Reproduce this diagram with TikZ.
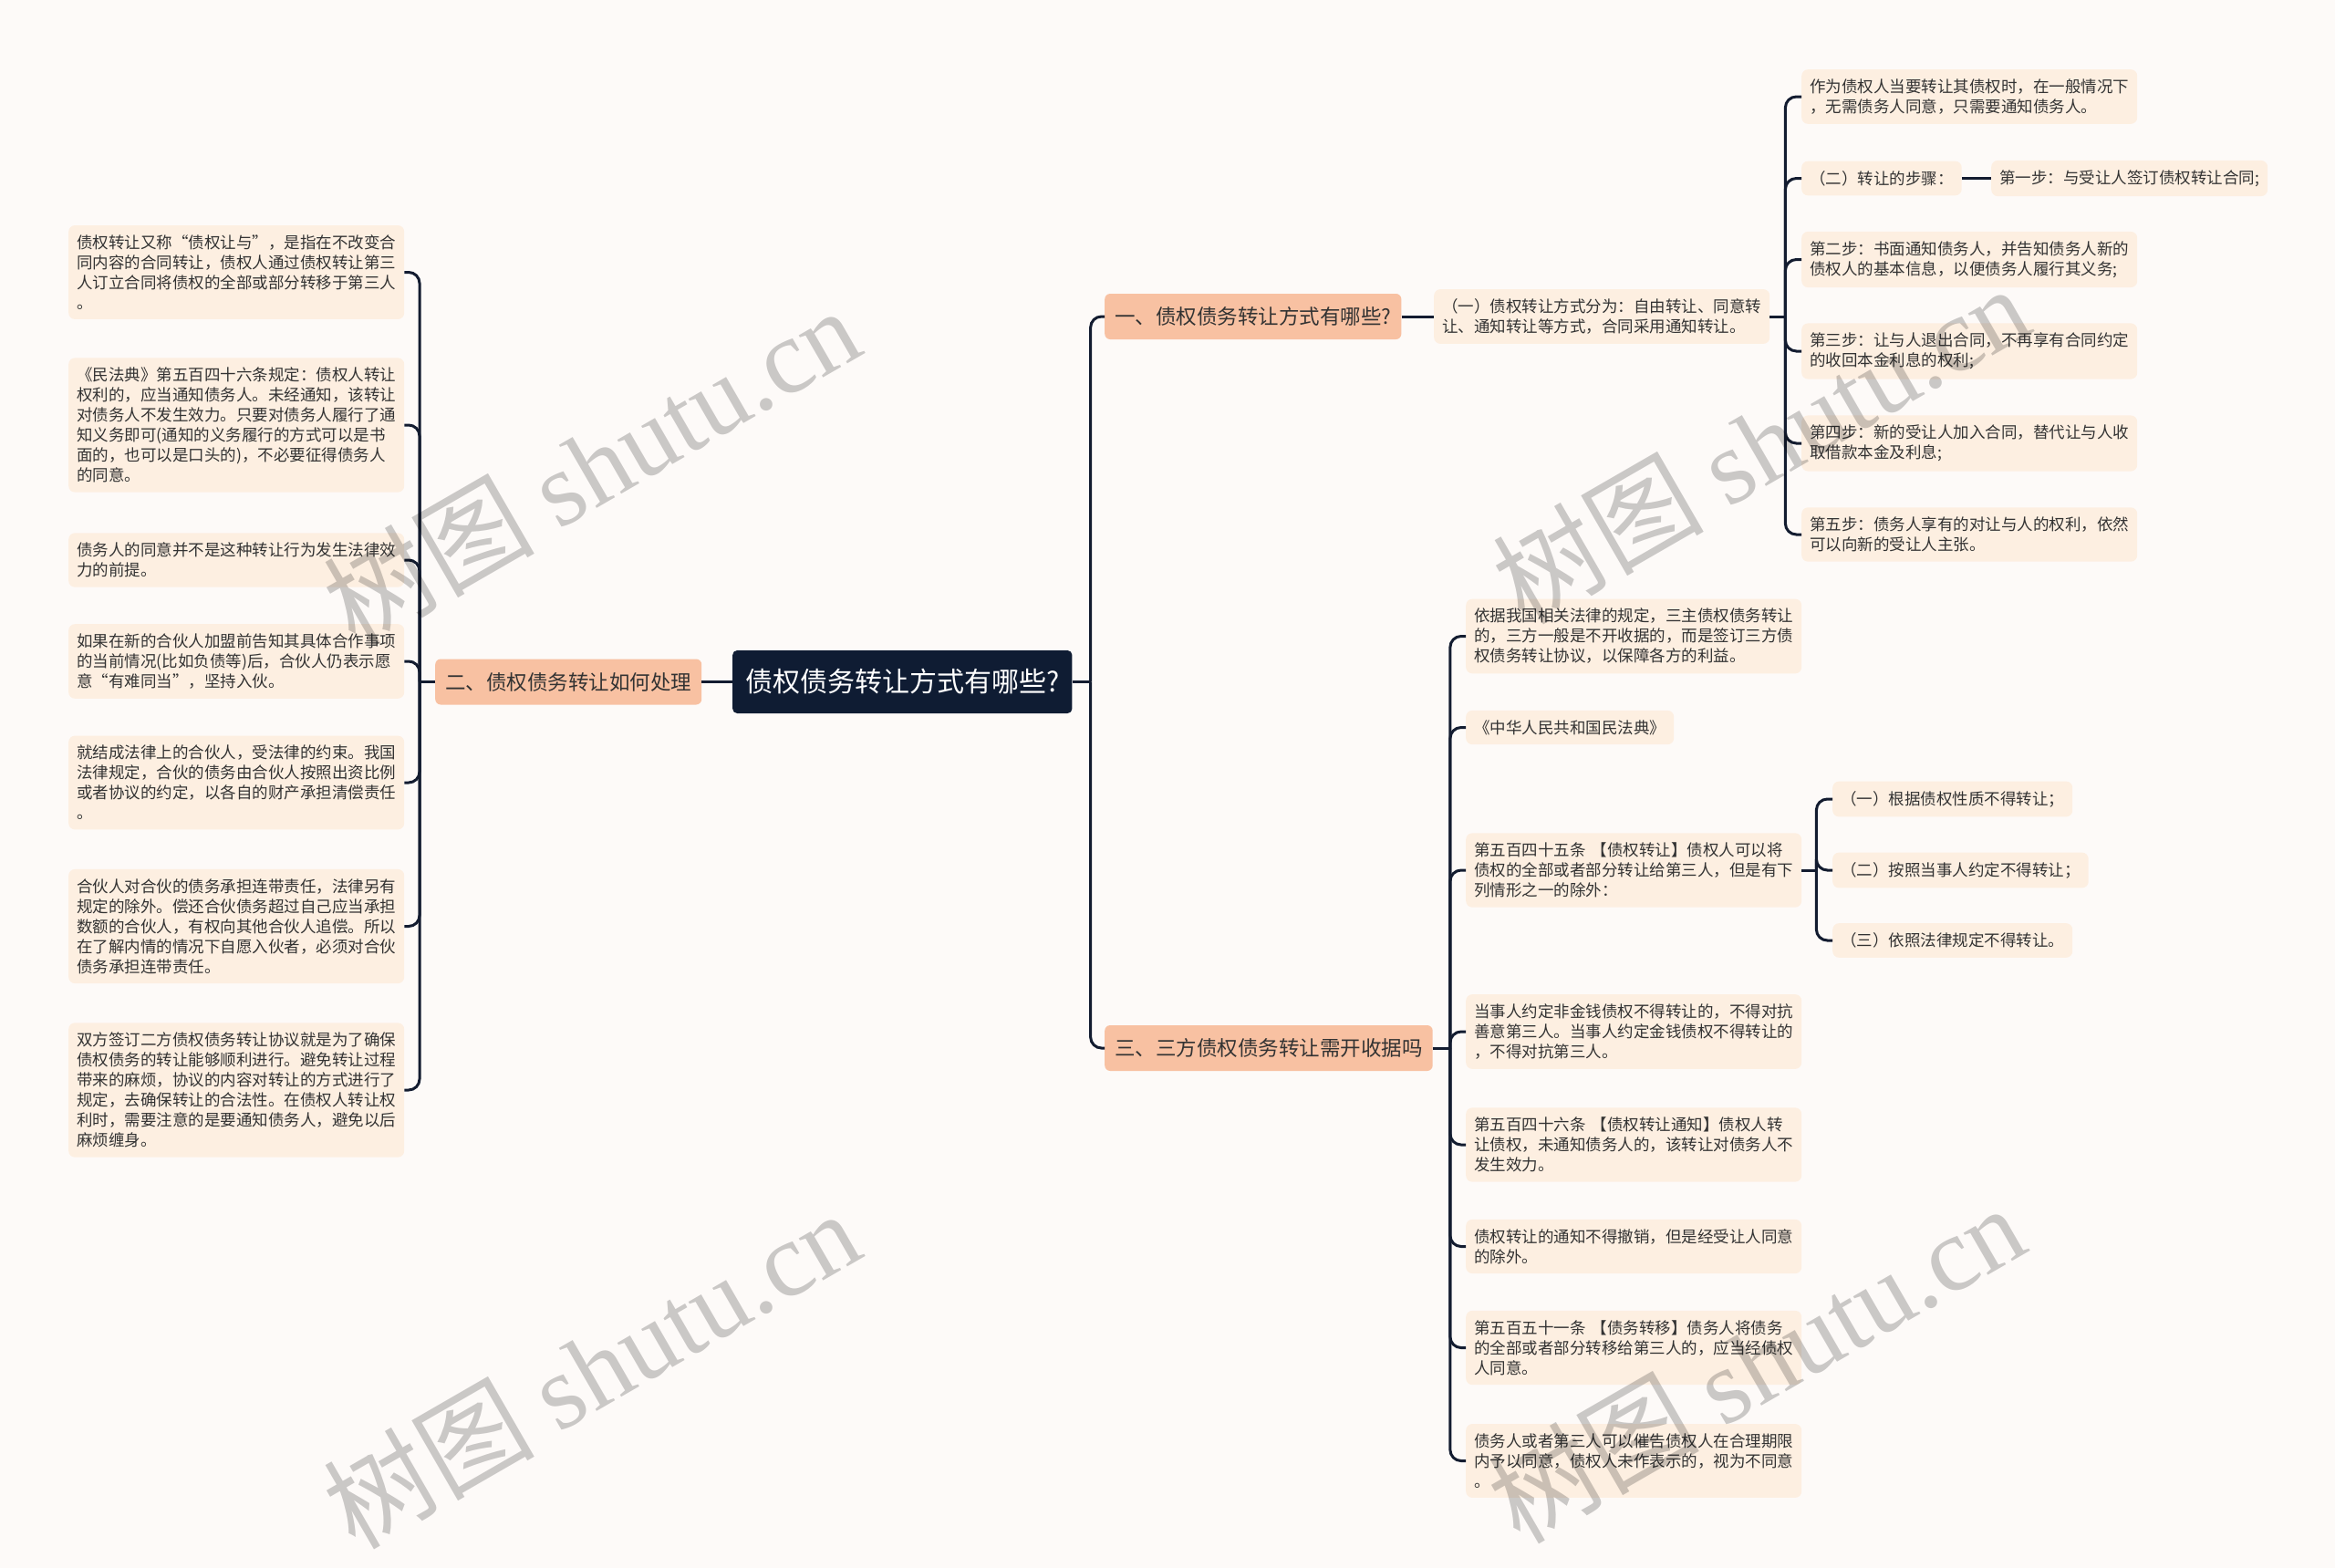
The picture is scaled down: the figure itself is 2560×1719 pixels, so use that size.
\documentclass[tikz,border=0pt]{standalone}
\usepackage{fontspec}
\setmainfont{Noto Sans CJK SC}
\newfontfamily\wmfont{Liberation Serif}
\definecolor{bgcol}{HTML}{FDFAF8}
\definecolor{rootcol}{HTML}{0F1C33}
\definecolor{branchcol}{HTML}{F8C1A2}
\definecolor{leafcol}{HTML}{FDEFE1}
\definecolor{linecol}{HTML}{131C30}
\definecolor{txtcol}{HTML}{333333}

\begin{document}
\begin{tikzpicture}[x=1pt,y=-1pt,
    rootnode/.style={fill=rootcol, text=white, rounded corners=5pt, anchor=west,
      inner xsep=14pt, minimum height=69pt, font=\fontsize{30}{35}\selectfont},
    branchnode/.style={fill=branchcol, text=txtcol, rounded corners=6pt, anchor=west,
      inner xsep=11pt, minimum height=50pt, font=\fontsize{22.5}{27}\selectfont},
    leafnode/.style={fill=leafcol, text=txtcol, rounded corners=7pt, anchor=west,
      inner xsep=9pt, inner ysep=10.5pt, align=left, font=\fontsize{17.5}{22}\selectfont},
    widenode/.style={leafnode, text width=350pt},
    linkline/.style={draw=linecol, line width=3pt, rounded corners=12pt},
    wmtext/.style={text=black, opacity=0.2, rotate=30, font=\fontsize{116}{116}\selectfont}]
        % page
        \fill[bgcol] (0,0) rectangle (2560,1719);
        \useasboundingbox (0,0) rectangle (2560,1719);

        % centre and main branches
        \node[rootnode] (root) at (803,747.5) {债权债务转让方式有哪些?};
        \node[branchnode] (b1) at (1211,347) {一、债权债务转让方式有哪些?};
        \node[branchnode] (b2) at (477,747.5) {二、债权债务转让如何处理};
        \node[branchnode] (b3) at (1211,1149) {三、三方债权债务转让需开收据吗};

        % left side
        \node[widenode] (l1) at (75,298.5) {债权转让又称“债权让与”，是指在不改变合\\同内容的合同转让，债权人通过债权转让第三\\人订立合同将债权的全部或部分转移于第三人\\。};
        \node[widenode] (l2) at (75,466) {《民法典》第五百四十六条规定：债权人转让\\权利的，应当通知债务人。未经通知，该转让\\对债务人不发生效力。只要对债务人履行了通\\知义务即可(通知的义务履行的方式可以是书\\面的，也可以是口头的)，不必要征得债务人\\的同意。};
        \node[widenode] (l3) at (75,614) {债务人的同意并不是这种转让行为发生法律效\\力的前提。};
        \node[widenode] (l4) at (75,725) {如果在新的合伙人加盟前告知其具体合作事项\\的当前情况(比如负债等)后，合伙人仍表示愿\\意“有难同当”，坚持入伙。};
        \node[widenode] (l5) at (75,858) {就结成法律上的合伙人，受法律的约束。我国\\法律规定，合伙的债务由合伙人按照出资比例\\或者协议的约定，以各自的财产承担清偿责任\\。};
        \node[widenode] (l6) at (75,1015.5) {合伙人对合伙的债务承担连带责任，法律另有\\规定的除外。偿还合伙债务超过自己应当承担\\数额的合伙人，有权向其他合伙人追偿。所以\\在了解内情的情况下自愿入伙者，必须对合伙\\债务承担连带责任。};
        \node[widenode] (l7) at (75,1195) {双方签订二方债权债务转让协议就是为了确保\\债权债务的转让能够顺利进行。避免转让过程\\带来的麻烦，协议的内容对转让的方式进行了\\规定，去确保转让的合法性。在债权人转让权\\利时，需要注意的是要通知债务人，避免以后\\麻烦缠身。};

        % branch one
        \node[widenode] (c1) at (1572,347) {（一）债权转让方式分为：自由转让、同意转\\让、通知转让等方式，合同采用通知转让。};
        \node[widenode] (d1) at (1975,106) {作为债权人当要转让其债权时，在一般情况下\\，无需债务人同意，只需要通知债务人。};
        \node[leafnode] (d2) at (1975,195.5) {（二）转让的步骤：};
        \node[leafnode] (e1) at (2183,195.5) {第一步：与受让人签订债权转让合同;};
        \node[widenode] (d3) at (1975,284.5) {第二步：书面通知债务人，并告知债务人新的\\债权人的基本信息，以便债务人履行其义务;};
        \node[widenode] (d4) at (1975,385) {第三步：让与人退出合同，不再享有合同约定\\的收回本金利息的权利;};
        \node[widenode] (d5) at (1975,486) {第四步：新的受让人加入合同，替代让与人收\\取借款本金及利息;};
        \node[widenode] (d6) at (1975,586) {第五步：债务人享有的对让与人的权利，依然\\可以向新的受让人主张。};

        % branch three
        \node[widenode] (f1) at (1607,697.5) {依据我国相关法律的规定，三主债权债务转让\\的，三方一般是不开收据的，而是签订三方债\\权债务转让协议，以保障各方的利益。};
        \node[leafnode] (f2) at (1607,797.5) {《中华人民共和国民法典》};
        \node[widenode] (f3) at (1607,954) {第五百四十五条 【债权转让】债权人可以将\\债权的全部或者部分转让给第三人，但是有下\\列情形之一的除外：};
        \node[widenode] (f4) at (1607,1131) {当事人约定非金钱债权不得转让的，不得对抗\\善意第三人。当事人约定金钱债权不得转让的\\，不得对抗第三人。};
        \node[widenode] (f5) at (1607,1255) {第五百四十六条 【债权转让通知】债权人转\\让债权，未通知债务人的，该转让对债务人不\\发生效力。};
        \node[widenode] (f6) at (1607,1366.5) {债权转让的通知不得撤销，但是经受让人同意\\的除外。};
        \node[widenode] (f7) at (1607,1477.5) {第五百五十一条 【债务转移】债务人将债务\\的全部或者部分转移给第三人的，应当经债权\\人同意。};
        \node[widenode] (f8) at (1607,1601.5) {债务人或者第三人可以催告债权人在合理期限\\内予以同意，债权人未作表示的，视为不同意\\。};
        \node[leafnode] (g1) at (2009,876) {（一）根据债权性质不得转让；};
        \node[leafnode] (g2) at (2009,954) {（二）按照当事人约定不得转让；};
        \node[leafnode] (g3) at (2009,1031) {（三）依照法律规定不得转让。};

        % connectors
        \draw[linkline] (root.west) -- (b2.east);
        \coordinate (rj) at ([xshift=20pt]root.east);
        \draw[linkline] (root.east) -- (rj);
        \foreach \n in {b1,b3} \draw[linkline] (rj) |- (\n.west);
        \coordinate (lj) at ([xshift=-17pt]b2.west);
        \draw[linkline] (b2.west) -- (lj);
        \foreach \n in {l1,l2,l3,l4,l5,l6,l7} \draw[linkline] (lj) |- (\n.east);
        \draw[linkline] (b1.east) -- (c1.west);
        \coordinate (cj) at ([xshift=17pt]c1.east);
        \draw[linkline] (c1.east) -- (cj);
        \foreach \n in {d1,d2,d3,d4,d5,d6} \draw[linkline] (cj) |- (\n.west);
        \draw[linkline] (d2.east) -- (e1.west);
        \coordinate (fj) at ([xshift=19pt]b3.east);
        \draw[linkline] (b3.east) -- (fj);
        \foreach \n in {f1,f2,f3,f4,f5,f6,f7,f8} \draw[linkline] (fj) |- (\n.west);
        \coordinate (gj) at ([xshift=16pt]f3.east);
        \draw[linkline] (f3.east) -- (gj);
        \foreach \n in {g1,g2,g3} \draw[linkline] (gj) |- (\n.west);

        % watermarks
        \foreach \p/\q in {648/510, 1930/486, 648/1500, 1925/1494}
          \node[wmtext] (wm\p) at (\p,\q) {树图 {\wmfont shutu.cn}};
\end{tikzpicture}
\end{document}
